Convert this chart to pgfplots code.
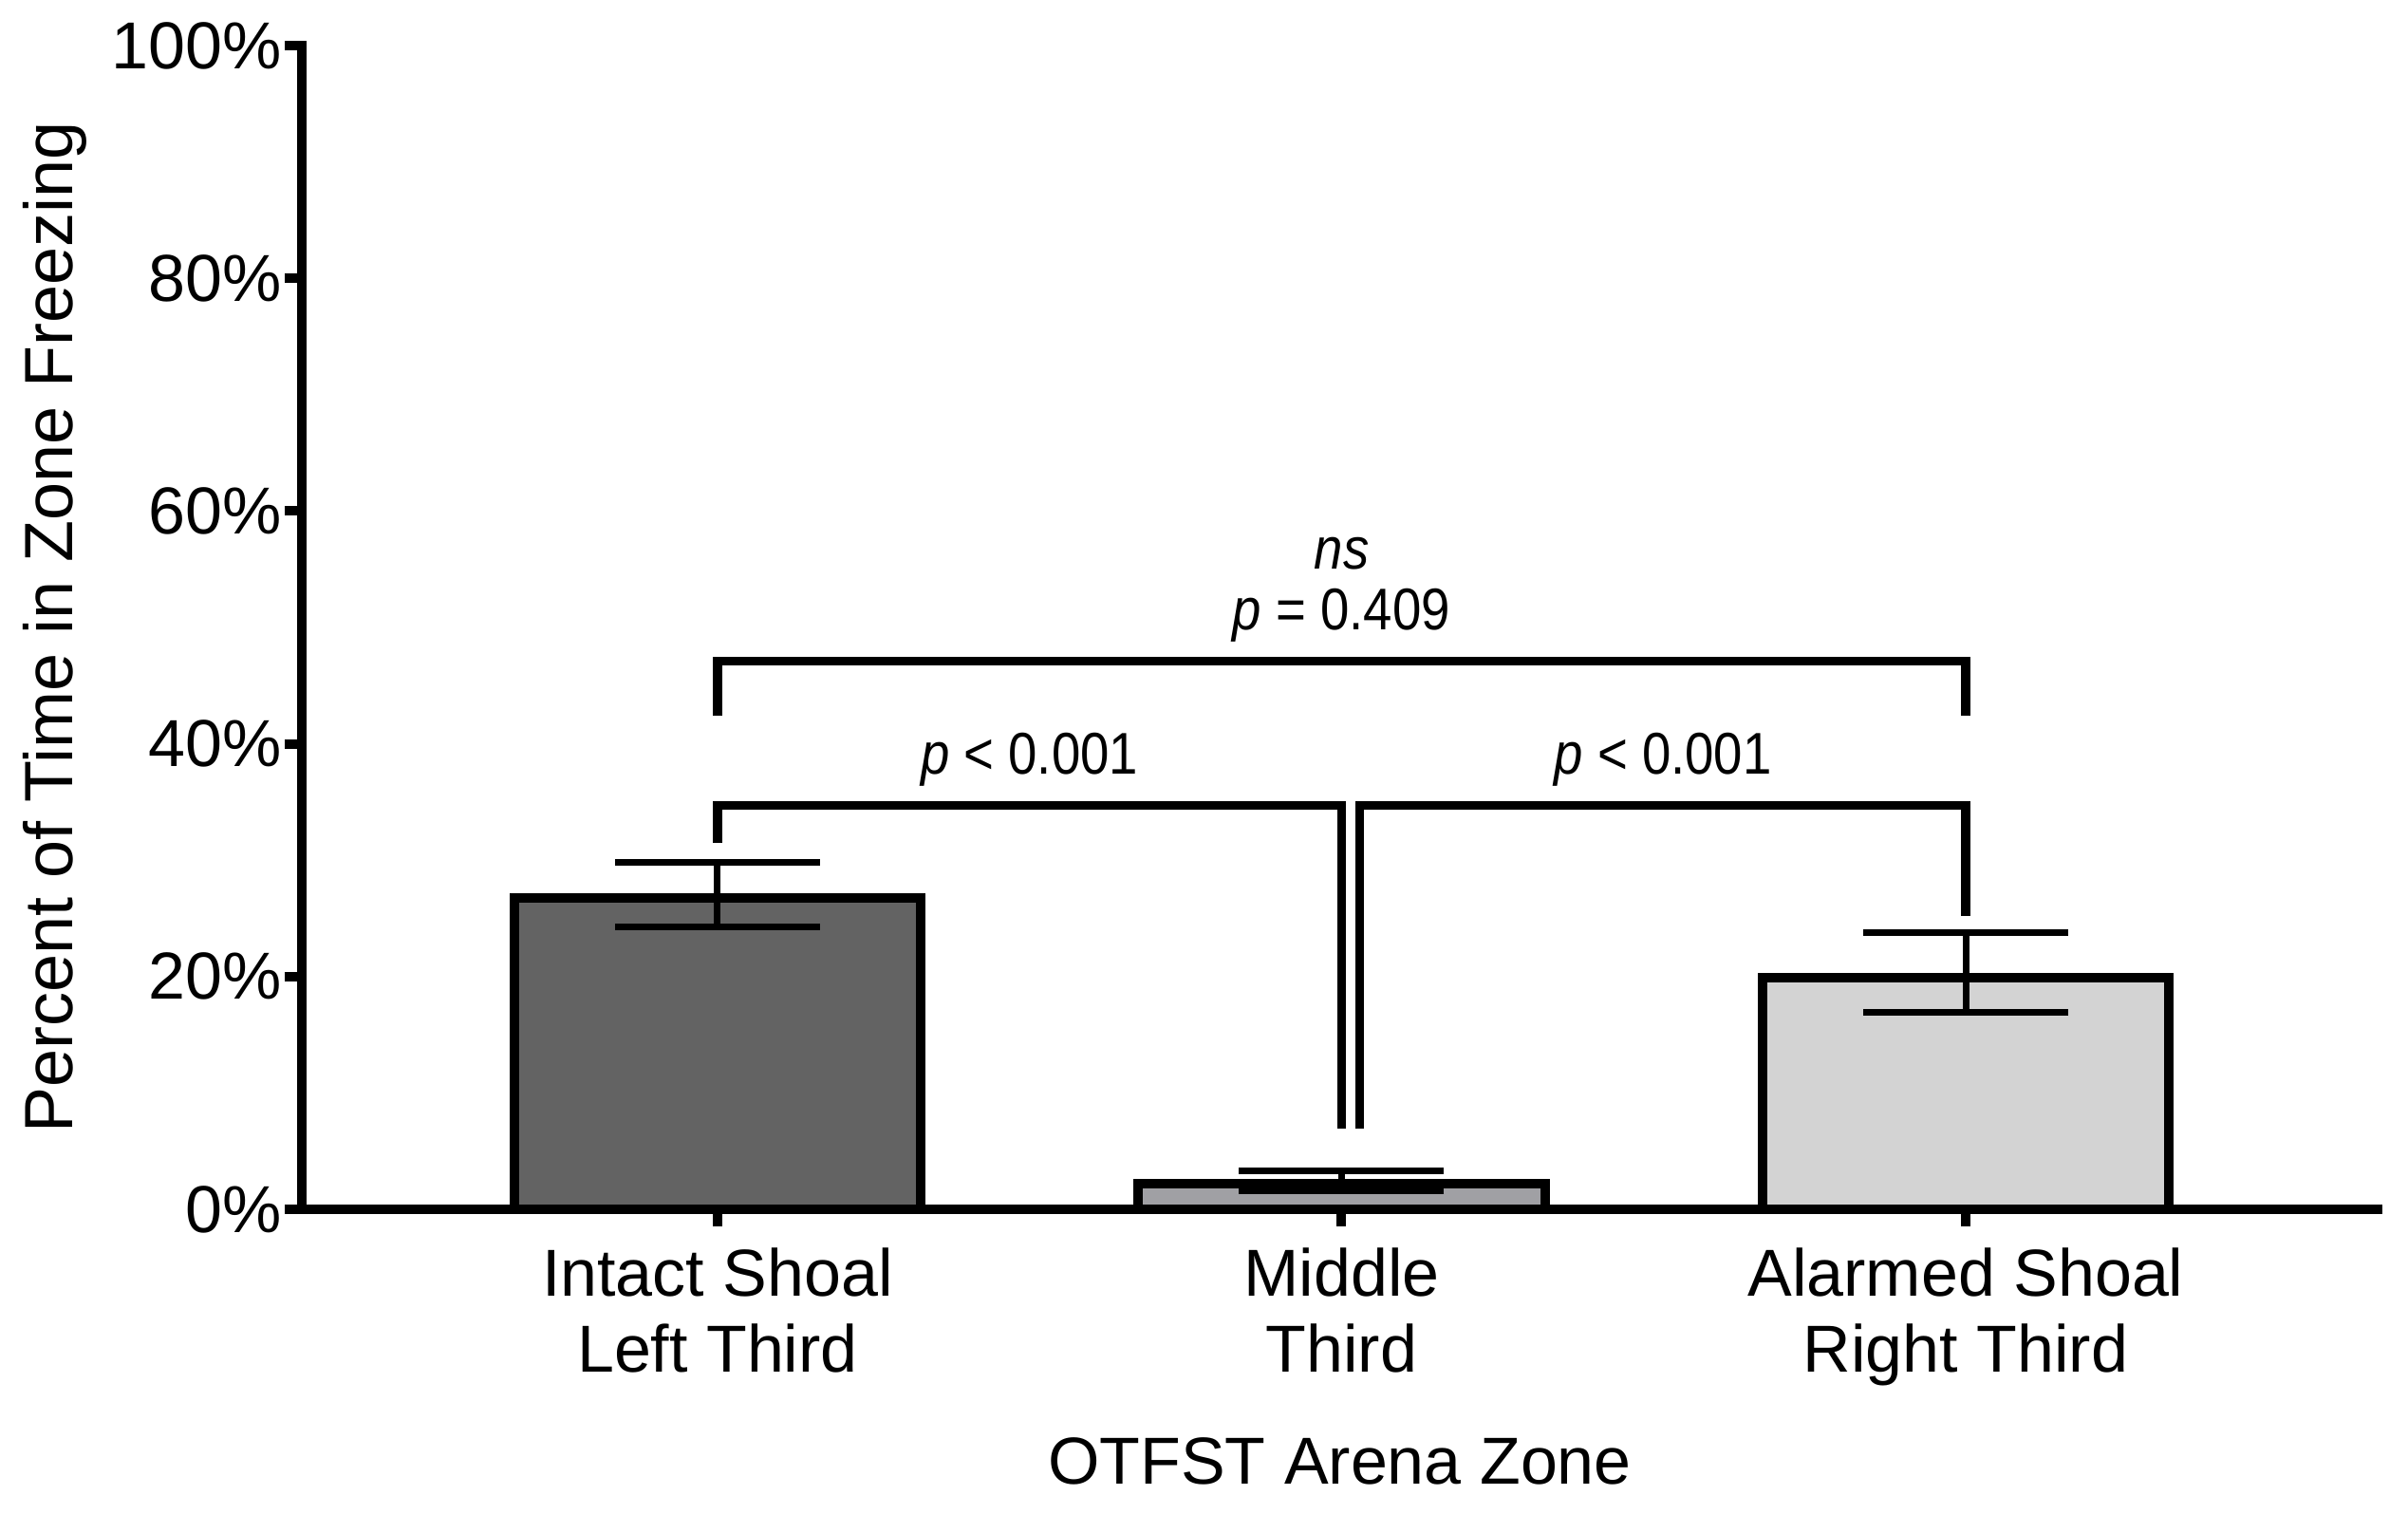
\documentclass[border=0pt]{standalone}
\usepackage{fontspec}
\setmainfont{Liberation Sans}
\newfontfamily\annfont[FakeStretch=0.88]{Liberation Sans}
\usepackage{pgfplots}
\pgfplotsset{compat=1.18}
\definecolor{barA}{RGB}{99,99,99}
\definecolor{barB}{RGB}{160,160,164}
\definecolor{barC}{RGB}{211,211,211}

\begin{document}
\begin{tikzpicture}
\useasboundingbox (-31.8pt,-32.1pt) rectangle (221.9pt,127.4pt);
\begin{axis}[
    scale only axis,
    width=218.7pt, height=122.6pt,
    xmin=0.334, xmax=3.66, ymin=0, ymax=100,
    axis x line=bottom, axis y line=left,
    axis line style={-, line width=1pt, line cap=rect},
    tick align=outside,
    major tick length=1.8pt,
    tick style={line width=1pt, black},
    minor tick num=0,
    ytick={0,20,40,60,80,100},
    yticklabels={0\%,20\%,40\%,60\%,80\%,100\%},
    xtick={1,2,3},
    xticklabels={{Intact Shoal\\Left Third},{Middle\\Third},{Alarmed Shoal\\Right Third}},
    xticklabel style={align=center, font=\fontsize{7}{8}\selectfont, yshift=1.3pt},
    yticklabel style={font=\fontsize{7}{8}\selectfont, xshift=3.2pt},
    xlabel={OTFST Arena Zone},
    ylabel={Percent of Time in Zone Freezing},
    xlabel style={font=\fontsize{7}{8}\selectfont, anchor=base,
        at={([yshift=-29.0pt]axis description cs:0.5,0)}},
    ylabel style={font=\fontsize{7.2}{8}\selectfont, anchor=base,
        at={([xshift=-24.1pt]axis description cs:0,0.5)}},
    clip=false,
]
% bars with asymmetric error bars
\addplot[ybar, bar shift=0pt, bar width=0.652, fill=barA, draw=black, line width=1pt,
    error bars/.cd, y dir=both, y explicit, error mark=|,
    error bar style={line width=0.7pt, black},
    error mark options={line width=0.7pt, mark size=10.8pt, black}]
    coordinates {(1,26.75) += (0,3.1) -= (0,2.45)};
\addplot[ybar, bar shift=0pt, bar width=0.652, fill=barB, draw=black, line width=1pt,
    error bars/.cd, y dir=both, y explicit, error mark=|,
    error bar style={line width=0.7pt, black},
    error mark options={line width=0.7pt, mark size=10.8pt, black}]
    coordinates {(2,2.2) += (0,1.1) -= (0,0.6)};
\addplot[ybar, bar shift=0pt, bar width=0.652, fill=barC, draw=black, line width=1pt,
    error bars/.cd, y dir=both, y explicit, error mark=|,
    error bar style={line width=0.7pt, black},
    error mark options={line width=0.7pt, mark size=10.8pt, black}]
    coordinates {(3,19.9) += (0,3.9) -= (0,3.0)};

% significance brackets
\draw[line width=0.95pt, line join=miter] (axis cs:1,42.4) |- (axis cs:3,47.1) -- (axis cs:3,42.4);
\draw[line width=0.95pt, line join=miter] (axis cs:1,31.5) |- (axis cs:2,34.7) -- (axis cs:2,6.9);
\draw[line width=0.95pt, line join=miter] (axis cs:2.029,6.9) |- (axis cs:3,34.7) -- (axis cs:3,25.2);

\node[anchor=base, font=\annfont\fontsize{6.2}{7}\selectfont] at (axis cs:2,55.0) {\textit{ns}};
\node[anchor=base, font=\annfont\fontsize{6.2}{7}\selectfont] at (axis cs:2,49.8) {\textit{p} = 0.409};
\node[anchor=base, font=\annfont\fontsize{6.2}{7}\selectfont] at (axis cs:1.5,37.4) {\textit{p} < 0.001};
\node[anchor=base, font=\annfont\fontsize{6.2}{7}\selectfont] at (axis cs:2.515,37.4) {\textit{p} < 0.001};
\end{axis}
\end{tikzpicture}
\end{document}
